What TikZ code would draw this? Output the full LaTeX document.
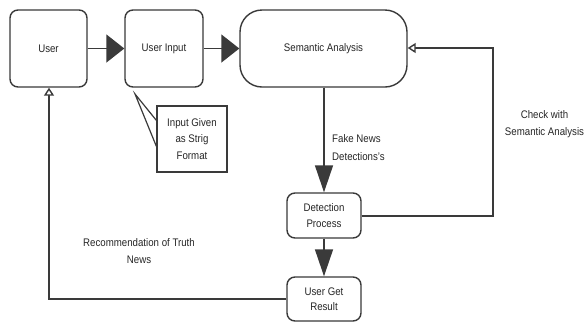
\documentclass[tikz,border=0pt]{standalone}
\usepackage{fontspec}
\setmainfont{Liberation Sans}[FakeStretch=0.88]
\usetikzlibrary{arrows.meta}
\definecolor{linec}{HTML}{3A3A3A}
\definecolor{textc}{HTML}{262626}
\tikzset{
  every node/.style={font=\fontsize{11}{17.5}\selectfont, text=textc},
  rbox/.style={draw=linec, line width=1.4pt, rounded corners=8pt, fill=white, align=center, inner sep=0pt},
  callbox/.style={draw=linec, line width=1.2pt, fill=white, align=center, inner sep=0pt},
  conn/.style={draw=linec, line width=1.4pt},
  bigh/.style={-{Triangle[length=18pt,width=28pt]}},
  bigv/.style={-{Triangle[length=27pt,width=18pt]}},
  openh/.style={-{Triangle[open,length=8pt,width=10pt,fill=white]}},
  lbl/.style={align=center, inner sep=0pt},
}
\begin{document}
\begin{tikzpicture}[x=1pt,y=-1pt]
\useasboundingbox (0,0) rectangle (588,322);
\fill[white] (0,0) rectangle (588,322);
% boxes
\node[rbox, minimum width=77pt, minimum height=77pt] (user) at (48.5,48.5) {User};
\node[rbox, minimum width=78pt, minimum height=77pt] (input) at (164,48.5) {User Input};
\node[rbox, rounded corners=22pt, minimum width=167pt, minimum height=77pt] (sem) at (323.5,48.5) {Semantic Analysis};
\node[rbox, minimum width=74pt, minimum height=45pt] (det) at (324,215.5) {Detection\\[-1pt]Process};
\node[rbox, minimum width=74pt, minimum height=44pt] (res) at (324,299) {User Get\\[-2pt]Result};
% callout
\node[callbox, minimum width=70pt, minimum height=66pt] (call) at (192,139) {Input Given\\[-1pt]as Strig\\[-1pt]Format};
\coordinate (tip) at (135,94);
\draw[linec, line width=1.2pt, line join=miter] ([yshift=-15pt]call.north west) -- (tip) -- ([yshift=-41pt]call.north west);
% main flow arrows
\draw[conn, bigh] (user.east) -- (input.west);
\draw[conn, bigh] (input.east) -- (sem.west);
\draw[conn, bigv] (sem.south -| det.north) -- (det.north);
\draw[conn, bigv] (det.south) -- (res.north);
% feedback loops
\coordinate (fbr) at (493,216);
\coordinate (fbt) at (493,48);
\draw[conn, openh] (det.east |- fbr) -- (fbr) -- (fbt) -- (sem.east |- fbt);
\coordinate (bl) at (49,299);
\draw[conn, openh] (res.west |- bl) -- (bl) -- (user.south -| bl);
% labels
\node[lbl, align=left, anchor=west] (lfake) at (332,147.5) {Fake News\\Detections's};
\node[lbl] (lcheck) at (544.5,124) {Check with\\Semantic Analysis};
\node[lbl] (lrec) at (139,251) {Recommendation of Truth\\News};
\end{tikzpicture}
\end{document}
